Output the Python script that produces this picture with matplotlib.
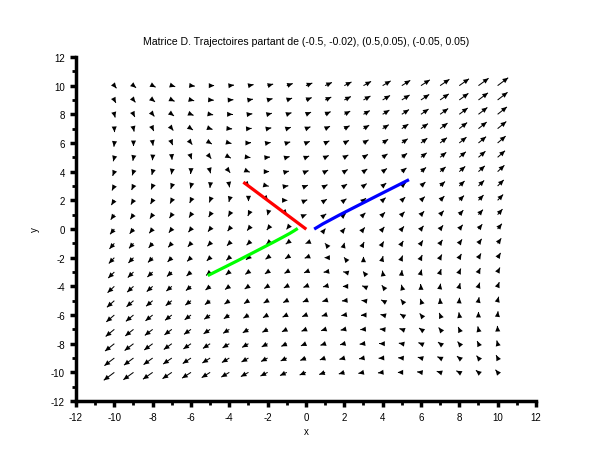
import numpy as np
import matplotlib
matplotlib.use('Agg')
import matplotlib.pyplot as plt
from matplotlib.ticker import MultipleLocator

plt.rcParams['font.family'] = ['Liberation Sans', 'DejaVu Sans']
plt.rcParams['axes.unicode_minus'] = False

# matrice D du systeme X' = D X
D = [[2.0, 3.0],
     [2.0, 1.0]]
grid_x = np.arange(-10, 11, 1)
grid_y = np.arange(-10, 11, 1)

# trajectoires
traj_red_x = [-0.05, -0.5, -1.0, -1.5, -2.0, -2.5, -3.2]
traj_red_y = [0.05, 0.5, 1.0, 1.5, 2.0, 2.5, 3.2]
traj_blue_x = [0.5, 0.65, 0.87, 1.22, 1.75, 2.54, 3.73, 5.3]
traj_blue_y = [0.05, 0.17, 0.35, 0.6, 0.98, 1.52, 2.33, 3.39]
traj_green_x = [-0.5, -0.64, -0.85, -1.18, -1.67, -2.42, -3.54, -5.05]
traj_green_y = [-0.02, -0.14, -0.31, -0.55, -0.9, -1.42, -2.19, -3.2]

ticks = list(range(-12, 13, 2))
arfact = 0.55   # longueur max des fleches (unites du graphe)

fig = plt.figure(figsize=(6.1, 4.6), dpi=100)
ax = fig.add_axes([0.1246, 0.126, 0.754, 0.748])

X, Y = np.meshgrid(grid_x, grid_y)
U = D[0][0] * X + D[0][1] * Y
V = D[1][0] * X + D[1][1] * Y
# comme champ() de scilab : chaque composante ramenee au pas de la grille
U = U / np.abs(U).max()
V = V / np.abs(V).max()
keep = (U != 0) | (V != 0)
X, Y, U, V = X[keep], Y[keep], U[keep], V[keep]

# tiges
ax.quiver(X, Y, U, V, angles='xy', scale_units='xy', scale=1 / arfact,
          pivot='tail', color='black', width=0.0022, headwidth=1,
          headlength=0, headaxislength=0)
# pointes de taille fixe, posees au bout des tiges
n = np.hypot(U, V)
ax.quiver(X + arfact * U, Y + arfact * V, U / n, V / n, angles='xy',
          scale_units='dots', scale=1 / (5.5 * 0.0022 * 460), pivot='tip',
          color='black', width=0.0022, headwidth=5, headlength=5.5,
          headaxislength=5.5)

ax.plot(traj_red_x, traj_red_y, color='#ff0000', lw=2.3)
ax.plot(traj_blue_x, traj_blue_y, color='#0000ff', lw=2.3)
ax.plot(traj_green_x, traj_green_y, color='#00ff00', lw=2.3)

ax.set_xlim(-12, 12)
ax.set_ylim(-12, 12)
ax.set_xticks(ticks)
ax.set_yticks(ticks)
ax.xaxis.set_minor_locator(MultipleLocator(1))
ax.yaxis.set_minor_locator(MultipleLocator(1))
for s in ['top', 'right']:
    ax.spines[s].set_visible(False)
for s in ['left', 'bottom']:
    ax.spines[s].set_linewidth(2.5)
ax.tick_params(which='major', direction='out', length=4, width=2.5,
               labelsize=7, pad=4)
ax.tick_params(which='minor', direction='out', length=3, width=2)

ax.set_xlabel('x', fontsize=7, labelpad=3)
ax.set_ylabel('y', fontsize=7, labelpad=8)
ax.set_title('Matrice D. Trajectoires partant de (-0.5, -0.02), (0.5,0.05), (-0.05, 0.05)',
             fontsize=7.6, pad=9)

fig.savefig('out.png', dpi=100)
